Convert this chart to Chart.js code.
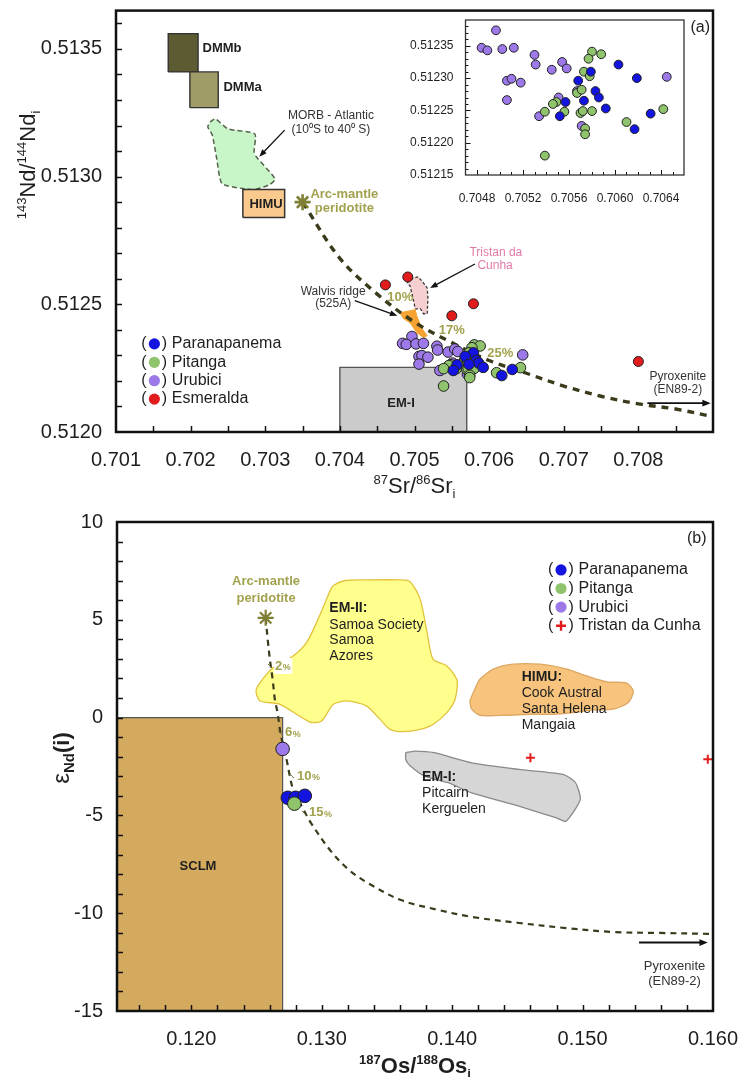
<!DOCTYPE html>
<html>
<head>
<meta charset="utf-8">
<title>Sr–Nd–Os isotope diagrams</title>
<script src="https://cdn.jsdelivr.net/npm/chart.js@4/dist/chart.umd.min.js"></script>
<style>
  html, body { margin: 0; padding: 0; background: #fff; }
  #wrap { position: relative; width: 740px; height: 1077px; overflow: hidden; }
  canvas { position: absolute; }
</style>
</head>
<body>
<div id="wrap">
  <canvas id="panelA" width="740" height="500" style="left:0;top:0"></canvas>
  <canvas id="panelAInset" width="300" height="210" style="left:400px;top:0"></canvas>
  <canvas id="panelB" width="740" height="577" style="left:0;top:500px"></canvas>
</div>
<script>
// ---------- axes ----------
const srRange = [0.701, 0.709];
const ndRange = [0.5120, 0.51365];
const srTicks = [0.701, 0.702, 0.703, 0.704, 0.705, 0.706, 0.707, 0.708];
const ndTicks = [0.5120, 0.5125, 0.5130, 0.5135];

const insetSrRange = [0.7047, 0.7066];
const insetNdRange = [0.51215, 0.51239];
const insetSrTicks = [0.7048, 0.7052, 0.7056, 0.7060, 0.7064];
const insetNdTicks = [0.51215, 0.51220, 0.51225, 0.51230, 0.51235];

const osRange = [0.1143, 0.160];
const epsRange = [-15, 10];
const osTicks = [0.120, 0.130, 0.140, 0.150, 0.160];
const epsTicks = [-15, -10, -5, 0, 5, 10];

// ---------- panel (a): 87Sr/86Sr vs 143Nd/144Nd ----------
const paranapanemaSrNd = [
  [0.70579, 0.512310], [0.70568, 0.512296], [0.70583, 0.512280], [0.70586, 0.512270],
  [0.70573, 0.512265], [0.70557, 0.512263], [0.70552, 0.512241], [0.70592, 0.512253],
  [0.70631, 0.512245], [0.70617, 0.512221]
];
// two Paranapanema samples shown only in the enlarged view
const paranapanemaInsetOnly = [[0.70603, 0.512321], [0.70619, 0.512300]];
const pitangaSrNd = [
  [0.70580, 0.512341], [0.70588, 0.512337], [0.70577, 0.512330], [0.70573, 0.512310],
  [0.70578, 0.512303], [0.70567, 0.512277], [0.70571, 0.512282], [0.70549, 0.512263],
  [0.70546, 0.512260], [0.70539, 0.512248], [0.70556, 0.512248], [0.70570, 0.512246],
  [0.70572, 0.512249], [0.70580, 0.512249], [0.70574, 0.512222], [0.70574, 0.512213],
  [0.70610, 0.512232], [0.70642, 0.512252], [0.70539, 0.512180]
];
const urubiciSrNd = [
  [0.704965, 0.512374], [0.70484, 0.512347], [0.70489, 0.512343], [0.70502, 0.512345],
  [0.70512, 0.512347], [0.70530, 0.512336], [0.70531, 0.512321], [0.70545, 0.512313],
  [0.70554, 0.512325], [0.70558, 0.512315], [0.70506, 0.512296], [0.70510, 0.512299],
  [0.70518, 0.512293], [0.70506, 0.512266], [0.70534, 0.512241], [0.70551, 0.512270],
  [0.70571, 0.512226], [0.70645, 0.512302], [0.70567, 0.512280]
];
const esmeraldaSrNd = [
  [0.70461, 0.512576], [0.70491, 0.512607], [0.70579, 0.512502], [0.70550, 0.512455],
  [0.70800, 0.512276]
];
const arcMantleSrNd = [[0.7035, 0.5129]];
const mixingSrNd = [
  [0.7035, 0.51290], [0.7040, 0.51268], [0.7045, 0.51254], [0.7050, 0.51243],
  [0.7055, 0.51235], [0.7060, 0.51228], [0.7065, 0.51223], [0.7070, 0.51218],
  [0.7075, 0.51214], [0.7080, 0.51211], [0.7085, 0.51209], [0.7090, 0.51206]
];
const dmmbField = [[0.70170, 0.51341], [0.70210, 0.51341], [0.70210, 0.51356], [0.70170, 0.51356], [0.70170, 0.51341]];
const dmmaField = [[0.70199, 0.51327], [0.70237, 0.51327], [0.70237, 0.51341], [0.70199, 0.51341], [0.70199, 0.51327]];
const himuFieldA = [[0.70270, 0.51284], [0.70326, 0.51284], [0.70326, 0.51295], [0.70270, 0.51295], [0.70270, 0.51284]];
const em1FieldA = [[0.70400, 0.51200], [0.70570, 0.51200], [0.70570, 0.512253], [0.70400, 0.512253], [0.70400, 0.51200]];
const morbAtlantic = [
  [0.70226, 0.513214], [0.70233, 0.513226], [0.70250, 0.513187], [0.70286, 0.513167],
  [0.70285, 0.513097], [0.70288, 0.513078], [0.70309, 0.513008], [0.70313, 0.512988],
  [0.70306, 0.512969], [0.70286, 0.512949], [0.70270, 0.512953], [0.70242, 0.512973],
  [0.70235, 0.513070], [0.70229, 0.513163], [0.70223, 0.513195], [0.70226, 0.513214]
];
const tristanField = [
  [0.70490, 0.512584], [0.70498, 0.512603], [0.70505, 0.512607], [0.70510, 0.512591],
  [0.70517, 0.512564], [0.70518, 0.512525], [0.70517, 0.512463], [0.70512, 0.512463],
  [0.70508, 0.512482], [0.70501, 0.512482], [0.70498, 0.512525], [0.70494, 0.512572],
  [0.70490, 0.512584]
];
const walvisField = [
  [0.70481, 0.512467], [0.70501, 0.512479], [0.70503, 0.512455], [0.70510, 0.512405],
  [0.70517, 0.512377], [0.70512, 0.512370], [0.70503, 0.512389], [0.70494, 0.512428],
  [0.70485, 0.512444], [0.70481, 0.512467]
];

// ---------- panel (b): 187Os/188Os vs eNd(i) ----------
const paranapanemaOsNd = [[0.1274, -4.1], [0.1280, -4.1], [0.1287, -4.0]];
const pitangaOsNd = [[0.1279, -4.4]];
const urubiciOsNd = [[0.1270, -1.6]];
const tristanOsNd = [[0.1460, -2.05], [0.1596, -2.13]];
const arcMantleOsNd = [[0.1257, 5.1]];
const mixingOsNd = [
  [0.1257, 5.1], [0.12586, 3.97], [0.12603, 2.94], [0.12624, 1.92], [0.12641, 0.90],
  [0.12662, 0.22], [0.12680, -0.64], [0.12700, -1.31], [0.12731, -2.17], [0.12756, -3.02],
  [0.12782, -3.70], [0.12849, -4.57], [0.12918, -5.39], [0.13063, -6.77], [0.13209, -7.79],
  [0.13355, -8.46], [0.13608, -9.33], [0.13899, -9.84], [0.14152, -10.19], [0.14513, -10.50],
  [0.14873, -10.76], [0.15233, -10.96], [0.15594, -11.01], [0.16000, -11.06]
];
const sclmField = [[0.1143, -15], [0.1270, -15], [0.1270, 0], [0.1143, 0], [0.1143, -15]];
const em2Field = [
  [0.13063, 6.49], [0.13089, 6.75], [0.13178, 7.01], [0.13345, 7.04], [0.13600, 7.04],
  [0.13677, 6.95], [0.13754, 6.07], [0.13807, 4.37], [0.13853, 2.99], [0.13961, 2.63],
  [0.14037, 1.91], [0.14022, 0.94], [0.13961, 0.27], [0.13853, -0.35], [0.13754, -0.60],
  [0.13623, -0.72], [0.13524, -0.60], [0.13447, -0.09], [0.13345, 0.59], [0.13192, 0.85],
  [0.13089, 0.68], [0.12999, -0.17], [0.12910, -0.23], [0.12680, 0.68], [0.12527, 0.85],
  [0.12496, 1.36], [0.12527, 1.79], [0.12629, 2.56], [0.12782, 3.16], [0.12885, 3.85],
  [0.12961, 4.87], [0.13038, 6.07], [0.13063, 6.49]
];
const himuFieldB = [
  [0.14162, 1.28], [0.14213, 1.96], [0.14316, 2.48], [0.14469, 2.73], [0.14674, 2.73],
  [0.14879, 2.48], [0.15032, 2.13], [0.15186, 1.83], [0.15339, 1.76], [0.15389, 1.36],
  [0.15351, 0.77], [0.15236, 0.43], [0.15083, 0.39], [0.14929, 0.26], [0.14776, 0.17],
  [0.14597, 0.17], [0.14418, 0.12], [0.14213, 0.12], [0.14150, 0.43], [0.14137, 0.85],
  [0.14162, 1.28]
];
const em1FieldB = [
  [0.13644, -1.79], [0.13715, -1.71], [0.13861, -1.79], [0.14150, -2.31], [0.14512, -2.65],
  [0.14855, -2.91], [0.14946, -3.33], [0.14982, -4.19], [0.14873, -5.30], [0.14801, -5.13],
  [0.14512, -4.53], [0.14150, -3.85], [0.13968, -3.33], [0.13788, -2.99], [0.13680, -2.48],
  [0.13644, -2.14], [0.13644, -1.79]
];

// ---------- styling ----------
const FONT = '"Liberation Sans", Arial, Helvetica, sans-serif';
const INK = '#1e1e1e';
const OLIVE = '#a2a24e';
const BLUE = '#1414e0', GREEN = '#8fc46c', PURPLE = '#9c78e8', RED = '#e21c1c';

const pts = arr => arr.map(([x, y]) => ({ x, y }));

function scatterSet(data, color, r, order) {
  return { type: 'scatter', data: pts(data), pointRadius: r, pointBackgroundColor: color,
           pointBorderColor: '#202020', pointBorderWidth: 1, showLine: false, order };
}
function areaSet(data, fillColor, line, order, extra) {
  return Object.assign({ type: 'line', data: pts(data), pointRadius: 0, borderColor: line.color,
           borderWidth: line.width, borderDash: line.dash || [], backgroundColor: fillColor,
           fill: 'shape', tension: 0, order }, extra || {});
}
function curveSet(data, width, dash, order) {
  return { type: 'line', data: pts(data), pointRadius: 0, borderColor: '#3b3b1c',
           borderWidth: width, borderDash: dash, fill: false, tension: 0.35, order };
}

function axis(range, ticks, fmt, fontSize, pad, fit) {
  return {
    type: 'linear', min: range[0], max: range[1],
    grid: { display: false }, border: { display: false },
    ticks: { font: { family: FONT, size: fontSize }, color: INK, padding: pad,
             autoSkip: false, maxRotation: 0, callback: v => fmt(v) },
    afterBuildTicks: s => { s.ticks = ticks.map(v => ({ value: v })); },
    afterFit: s => {
      if (fit.height !== undefined) s.height = fit.height;
      if (fit.width !== undefined) s.width = fit.width;
      s.paddingLeft = 0; s.paddingRight = 0; s.paddingTop = 0; s.paddingBottom = 0;
    }
  };
}

function baseOptions(padding, xAxis, yAxis) {
  return {
    responsive: false, animation: false, events: [],
    layout: { padding },
    plugins: { legend: { display: false }, tooltip: { enabled: false } },
    scales: { x: xAxis, y: yAxis }
  };
}

// ---------- drawing helpers ----------
function steps(min, max, step) {
  const out = [];
  for (let i = 0; min + i * step <= max + step * 1e-6; i++) out.push(+(min + i * step).toFixed(9));
  return out;
}
function frame(ctx, a, w, color) {
  ctx.save(); ctx.strokeStyle = color || '#111'; ctx.lineWidth = w;
  ctx.strokeRect(a.left, a.top, a.right - a.left, a.bottom - a.top); ctx.restore();
}
function inwardTicks(ctx, chart, xs, ys, len, lw) {
  const a = chart.chartArea, sx = chart.scales.x, sy = chart.scales.y;
  ctx.save(); ctx.strokeStyle = '#111'; ctx.lineWidth = lw; ctx.beginPath();
  xs.forEach(v => { const p = Math.round(sx.getPixelForValue(v)) + 0.5;
    if (p > a.left + 1 && p < a.right - 1) { ctx.moveTo(p, a.bottom); ctx.lineTo(p, a.bottom - len); } });
  ys.forEach(v => { const p = Math.round(sy.getPixelForValue(v)) + 0.5;
    if (p > a.top + 1 && p < a.bottom - 1) { ctx.moveTo(a.left, p); ctx.lineTo(a.left + len, p); } });
  ctx.stroke(); ctx.restore();
}
function at(chart, x, y) { return [chart.scales.x.getPixelForValue(x), chart.scales.y.getPixelForValue(y)]; }
function label(ctx, str, x, y, font, color, align) {
  ctx.save(); ctx.font = font; ctx.fillStyle = color || INK; ctx.textAlign = align || 'center';
  ctx.textBaseline = 'middle'; ctx.fillText(str, x, y); ctx.restore();
}
function arrow(ctx, x1, y1, x2, y2, w, head) {
  const ang = Math.atan2(y2 - y1, x2 - x1);
  ctx.save(); ctx.strokeStyle = '#111'; ctx.fillStyle = '#111'; ctx.lineWidth = w;
  ctx.beginPath(); ctx.moveTo(x1, y1);
  ctx.lineTo(x2 - head * 0.8 * Math.cos(ang), y2 - head * 0.8 * Math.sin(ang)); ctx.stroke();
  ctx.beginPath(); ctx.moveTo(x2, y2);
  ctx.lineTo(x2 - head * Math.cos(ang - 0.38), y2 - head * Math.sin(ang - 0.38));
  ctx.lineTo(x2 - head * Math.cos(ang + 0.38), y2 - head * Math.sin(ang + 0.38));
  ctx.closePath(); ctx.fill(); ctx.restore();
}
// text made of runs with raised / lowered pieces, centred on (cx, cy)
function richText(ctx, runs, cx, cy, angle) {
  ctx.save(); ctx.translate(cx, cy); ctx.rotate(angle || 0);
  let total = 0;
  runs.forEach(r => { ctx.font = r.font; r.w = ctx.measureText(r.t).width; total += r.w; });
  let x = -total / 2;
  ctx.textAlign = 'left'; ctx.textBaseline = 'alphabetic'; ctx.fillStyle = INK;
  runs.forEach(r => { ctx.font = r.font; ctx.fillText(r.t, x, 7 + (r.dy || 0)); x += r.w; });
  ctx.restore();
}
function legend(ctx, x, y, rowH, items) {
  items.forEach((it, i) => {
    const yy = y + i * rowH;
    label(ctx, '(', x, yy, '16px ' + FONT, INK, 'left');
    if (it.cross) {
      ctx.save(); ctx.strokeStyle = it.color; ctx.lineWidth = 2.4; ctx.beginPath();
      ctx.moveTo(x + 13 - 5, yy); ctx.lineTo(x + 13 + 5, yy);
      ctx.moveTo(x + 13, yy - 5); ctx.lineTo(x + 13, yy + 5); ctx.stroke(); ctx.restore();
    } else {
      ctx.save(); ctx.fillStyle = it.color; ctx.beginPath();
      ctx.arc(x + 13, yy, 5.6, 0, Math.PI * 2); ctx.fill(); ctx.restore();
    }
    label(ctx, ')', x + 20.5, yy, '16px ' + FONT, INK, 'left');
    label(ctx, it.name, x + 30.5, yy, '16px ' + FONT, INK, 'left');
  });
}

// ---------- panel (a) ----------
const decorA = {
  id: 'decorA',
  afterDraw(chart) {
    const ctx = chart.ctx, a = chart.chartArea;
    inwardTicks(ctx, chart, steps(0.701, 0.709, 0.0005), steps(0.5120, 0.51365, 0.0001), 6, 1.5);
    frame(ctx, a, 2.5);

    const r12 = '12px ' + FONT, b13 = 'bold 13px ' + FONT;
    let p;
    p = at(chart, 0.70216, 0.51350); label(ctx, 'DMMb', p[0], p[1], b13, INK, 'left');
    p = at(chart, 0.70244, 0.51335); label(ctx, 'DMMa', p[0], p[1], b13, INK, 'left');
    p = at(chart, 0.70301, 0.512892); label(ctx, 'HIMU', p[0], p[1], b13, INK);
    p = at(chart, 0.70482, 0.512113); label(ctx, 'EM-I', p[0], p[1], b13, INK);
    p = at(chart, 0.70388, 0.513240); label(ctx, 'MORB - Atlantic', p[0], p[1], r12, '#333');
    p = at(chart, 0.70388, 0.513185); label(ctx, '(10\u2070S to 40\u2070 S)', p[0], p[1], r12, '#333');
    let s = at(chart, 0.70326, 0.513182), e = at(chart, 0.70292, 0.513078);
    arrow(ctx, s[0], s[1], e[0], e[1], 1.3, 8);
    p = at(chart, 0.70406, 0.512929); label(ctx, 'Arc-mantle', p[0], p[1], b13, OLIVE);
    p = at(chart, 0.70406, 0.512877); label(ctx, 'peridotite', p[0], p[1], b13, OLIVE);
    p = at(chart, 0.70609, 0.512702); label(ctx, 'Tristan da', p[0], p[1], r12, '#e27aa9');
    p = at(chart, 0.70608, 0.512650); label(ctx, 'Cunha', p[0], p[1], r12, '#e27aa9');
    s = at(chart, 0.70581, 0.512658); e = at(chart, 0.70521, 0.512564);
    arrow(ctx, s[0], s[1], e[0], e[1], 1.3, 8);
    p = at(chart, 0.70391, 0.512549); label(ctx, 'Walvis ridge', p[0], p[1], r12, '#333');
    p = at(chart, 0.70391, 0.512501); label(ctx, '(525A)', p[0], p[1], r12, '#333');
    s = at(chart, 0.70420, 0.512514); e = at(chart, 0.70477, 0.512455);
    arrow(ctx, s[0], s[1], e[0], e[1], 1.3, 8);
    p = at(chart, 0.70481, 0.512525); label(ctx, '10%', p[0], p[1], b13, OLIVE);
    p = at(chart, 0.70550, 0.512397); label(ctx, '17%', p[0], p[1], b13, OLIVE);
    p = at(chart, 0.70615, 0.512307); label(ctx, '25%', p[0], p[1], b13, OLIVE);
    p = at(chart, 0.70853, 0.512218); label(ctx, 'Pyroxenite', p[0], p[1], r12, '#333');
    p = at(chart, 0.70853, 0.512167); label(ctx, '(EN89-2)', p[0], p[1], r12, '#333');
    s = at(chart, 0.70812, 0.512113); e = at(chart, 0.70897, 0.512113);
    arrow(ctx, s[0], s[1], e[0], e[1], 1.8, 9);
    p = at(chart, 0.70883, 0.513584); label(ctx, '(a)', p[0], p[1], '16px ' + FONT, INK);

    p = at(chart, 0.70134, 0.512345);
    legend(ctx, p[0], p[1], 18.4, [
      { name: 'Paranapanema', color: BLUE }, { name: 'Pitanga', color: GREEN },
      { name: 'Urubici', color: PURPLE }, { name: 'Esmeralda', color: RED }]);

    // axis titles
    const cx = (a.left + a.right) / 2;
    richText(ctx, [
      { t: '87', font: '13px ' + FONT, dy: -9 }, { t: 'Sr/', font: '22px ' + FONT },
      { t: '86', font: '13px ' + FONT, dy: -9 }, { t: 'Sr', font: '22px ' + FONT },
      { t: 'i', font: '13px ' + FONT, dy: 5 }], cx, a.bottom + 54, 0);
    richText(ctx, [
      { t: '143', font: '13px ' + FONT, dy: -9 }, { t: 'Nd/', font: '22px ' + FONT },
      { t: '144', font: '13px ' + FONT, dy: -9 }, { t: 'Nd', font: '22px ' + FONT },
      { t: 'i', font: '13px ' + FONT, dy: 5 }], 28, 165, -Math.PI / 2);
  }
};

new Chart(document.getElementById('panelA'), {
  type: 'scatter',
  data: { datasets: [
    scatterSet(esmeraldaSrNd, RED, 5, 1),
    scatterSet(paranapanemaSrNd, BLUE, 5.3, 2),
    scatterSet(pitangaSrNd, GREEN, 5.3, 3),
    scatterSet(urubiciSrNd, PURPLE, 5.3, 4),
    { type: 'scatter', data: pts(arcMantleSrNd), pointStyle: 'star', pointRadius: 8,
      pointBorderColor: '#7e7e34', pointBorderWidth: 2.6, order: 5 },
    curveSet(mixingSrNd, 3.4, [7, 6], 6),
    areaSet(walvisField, '#f7a334', { color: '#f7a334', width: 1 }, 7),
    areaSet(tristanField, '#f6d0d0', { color: '#3a3a3a', width: 1.3, dash: [3, 2] }, 8),
    areaSet(em1FieldA, '#cbcbcb', { color: '#555', width: 1.4 }, 9),
    areaSet(himuFieldA, '#f9c98d', { color: '#333', width: 1.5 }, 10),
    areaSet(morbAtlantic, '#c9f6c9', { color: '#55634d', width: 1.5, dash: [5, 3] }, 11, { tension: 0.2 }),
    areaSet(dmmaField, '#9f9c67', { color: '#333', width: 1.4 }, 12),
    areaSet(dmmbField, '#5c5b31', { color: '#333', width: 1.4 }, 13)
  ] },
  options: baseOptions({ left: 0, right: 27, top: 8, bottom: 0 },
    axis(srRange, srTicks, v => v.toFixed(3), 20, 8, { height: 68 }),
    axis(ndRange, ndTicks, v => v.toFixed(4), 20, 6, { width: 116 })),
  plugins: [decorA]
});

// ---------- panel (a) inset ----------
const decorInset = {
  id: 'decorInset',
  afterDraw(chart) {
    const ctx = chart.ctx, a = chart.chartArea;
    inwardTicks(ctx, chart, steps(0.7047, 0.7066, 0.0001), steps(0.51215, 0.51239, 0.00001), 3, 1);
    inwardTicks(ctx, chart, insetSrTicks, insetNdTicks, 5, 1);
    frame(ctx, a, 1.3, '#333');
  }
};

new Chart(document.getElementById('panelAInset'), {
  type: 'scatter',
  data: { datasets: [
    scatterSet(paranapanemaSrNd.concat(paranapanemaInsetOnly), BLUE, 4.4, 1),
    scatterSet(pitangaSrNd, GREEN, 4.4, 2),
    scatterSet(urubiciSrNd, PURPLE, 4.4, 3)
  ] },
  options: baseOptions({ left: 0, right: 16, top: 20, bottom: 0 },
    axis(insetSrRange, insetSrTicks, v => v.toFixed(4), 12, 8, { height: 35 }),
    axis(insetNdRange, insetNdTicks, v => v.toFixed(5), 12, 4, { width: 65.5 })),
  plugins: [decorInset]
});

// ---------- panel (b) ----------
const decorB = {
  id: 'decorB',
  afterDraw(chart) {
    const ctx = chart.ctx, a = chart.chartArea;
    inwardTicks(ctx, chart, steps(0.114, 0.160, 0.002), steps(-15, 10, 1), 6, 1.5);
    frame(ctx, a, 2.5);

    const b13 = 'bold 13px ' + FONT, b14 = 'bold 14px ' + FONT, r14 = '14px ' + FONT, r13 = '13px ' + FONT;
    let p, s, e;
    p = at(chart, 0.15875, 9.17); label(ctx, '(b)', p[0], p[1], '16px ' + FONT, INK);
    p = at(chart, 0.12573, 6.95); label(ctx, 'Arc-mantle', p[0], p[1], b13, OLIVE);
    p = at(chart, 0.12573, 6.10); label(ctx, 'peridotite', p[0], p[1], b13, OLIVE);

    p = at(chart, 0.13058, 5.59); label(ctx, 'EM-II:', p[0], p[1], b14, INK, 'left');
    [['Samoa Society', 4.73], ['Samoa', 3.94], ['Azores', 3.15]].forEach(([t, y]) => {
      const q = at(chart, 0.13058, y); label(ctx, t, q[0], q[1], r14, INK, 'left'); });
    p = at(chart, 0.14533, 2.06); label(ctx, 'HIMU:', p[0], p[1], b14, INK, 'left');
    [['Cook Austral', 1.26], ['Santa Helena', 0.44], ['Mangaia', -0.36]].forEach(([t, y]) => {
      const q = at(chart, 0.14533, y); label(ctx, t, q[0], q[1], r14, INK, 'left'); });
    p = at(chart, 0.13769, -3.04); label(ctx, 'EM-I:', p[0], p[1], b14, INK, 'left');
    [['Pitcairn', -3.86], ['Kerguelen', -4.67]].forEach(([t, y]) => {
      const q = at(chart, 0.13769, y); label(ctx, t, q[0], q[1], r14, INK, 'left'); });
    p = at(chart, 0.12051, -7.62); label(ctx, 'SCLM', p[0], p[1], b13, INK);

    p = at(chart, 0.15705, -12.70); label(ctx, 'Pyroxenite', p[0], p[1], r13, '#333');
    p = at(chart, 0.15705, -13.47); label(ctx, '(EN89-2)', p[0], p[1], r13, '#333');
    s = at(chart, 0.15433, -11.50); e = at(chart, 0.15960, -11.50);
    arrow(ctx, s[0], s[1], e[0], e[1], 2, 9);

    // mixing proportions along the curve
    [['2', 0.12642, 2.64, true], ['6', 0.12718, -0.77], ['10', 0.12810, -2.99], ['15', 0.12902, -4.87]]
      .forEach(([n, x, y, boxed]) => {
        const q = at(chart, x, y);
        ctx.save(); ctx.font = 'bold 13px ' + FONT;
        const wn = ctx.measureText(n).width; ctx.font = 'bold 9px ' + FONT;
        const wp = ctx.measureText('%').width;
        if (boxed) { ctx.fillStyle = '#fff'; ctx.fillRect(q[0] - 1, q[1] - 8, wn + wp + 3, 16); }
        ctx.strokeStyle = '#6d6d40'; ctx.lineWidth = 1; ctx.beginPath();
        ctx.moveTo(q[0] - 7, q[1] - 2); ctx.lineTo(q[0] - 3, q[1] + 2); ctx.stroke();
        ctx.restore();
        label(ctx, n, q[0], q[1], 'bold 13px ' + FONT, OLIVE, 'left');
        label(ctx, '%', q[0] + wn + 0.5, q[1] + 1.5, 'bold 9px ' + FONT, OLIVE, 'left');
      });

    p = at(chart, 0.14735, 7.55);
    legend(ctx, p[0], p[1], 18.6, [
      { name: 'Paranapanema', color: BLUE }, { name: 'Pitanga', color: GREEN },
      { name: 'Urubici', color: PURPLE }, { name: 'Tristan da Cunha', color: RED, cross: true }]);

    const cx = (a.left + a.right) / 2;
    richText(ctx, [
      { t: '187', font: 'bold 13px ' + FONT, dy: -9 }, { t: 'Os/', font: 'bold 22px ' + FONT },
      { t: '188', font: 'bold 13px ' + FONT, dy: -9 }, { t: 'Os', font: 'bold 22px ' + FONT },
      { t: 'i', font: 'bold 13px ' + FONT, dy: 5 }], cx, a.bottom + 55, 0);
    richText(ctx, [
      { t: '\u03b5', font: '24px ' + FONT }, { t: 'Nd', font: 'bold 15px ' + FONT, dy: 5 },
      { t: '(i)', font: 'bold 22px ' + FONT }], 62, 258, -Math.PI / 2);
  }
};

new Chart(document.getElementById('panelB'), {
  type: 'scatter',
  data: { datasets: [
    scatterSet(paranapanemaOsNd, BLUE, 6.8, 2),
    scatterSet(pitangaOsNd, GREEN, 6.8, 1),
    scatterSet(urubiciOsNd, PURPLE, 6.8, 3),
    { type: 'scatter', data: pts(tristanOsNd), pointStyle: 'cross', pointRadius: 4.5,
      pointBorderColor: RED, pointBorderWidth: 2, order: 4 },
    { type: 'scatter', data: pts(arcMantleOsNd), pointStyle: 'star', pointRadius: 8,
      pointBorderColor: '#7e7e34', pointBorderWidth: 2.2, order: 5 },
    curveSet(mixingOsNd, 2.2, [6, 5], 6),
    areaSet(em1FieldB, '#d6d6d6', { color: '#8a8a8a', width: 1.3 }, 7, { tension: 0.2 }),
    areaSet(himuFieldB, '#f8c47d', { color: '#dda862', width: 1.3 }, 8, { tension: 0.25 }),
    areaSet(em2Field, '#ffff8e', { color: '#e2c23c', width: 1.3 }, 9, { tension: 0.25 }),
    areaSet(sclmField, '#d4aa5f', { color: '#555', width: 1.2 }, 10)
  ] },
  options: baseOptions({ left: 0, right: 27, top: 22, bottom: 0 },
    axis(osRange, osTicks, v => v.toFixed(3), 20, 8, { height: 66 }),
    axis(epsRange, epsTicks, v => String(v), 20, 6, { width: 117 })),
  plugins: [decorB]
});
</script>
</body>
</html>
